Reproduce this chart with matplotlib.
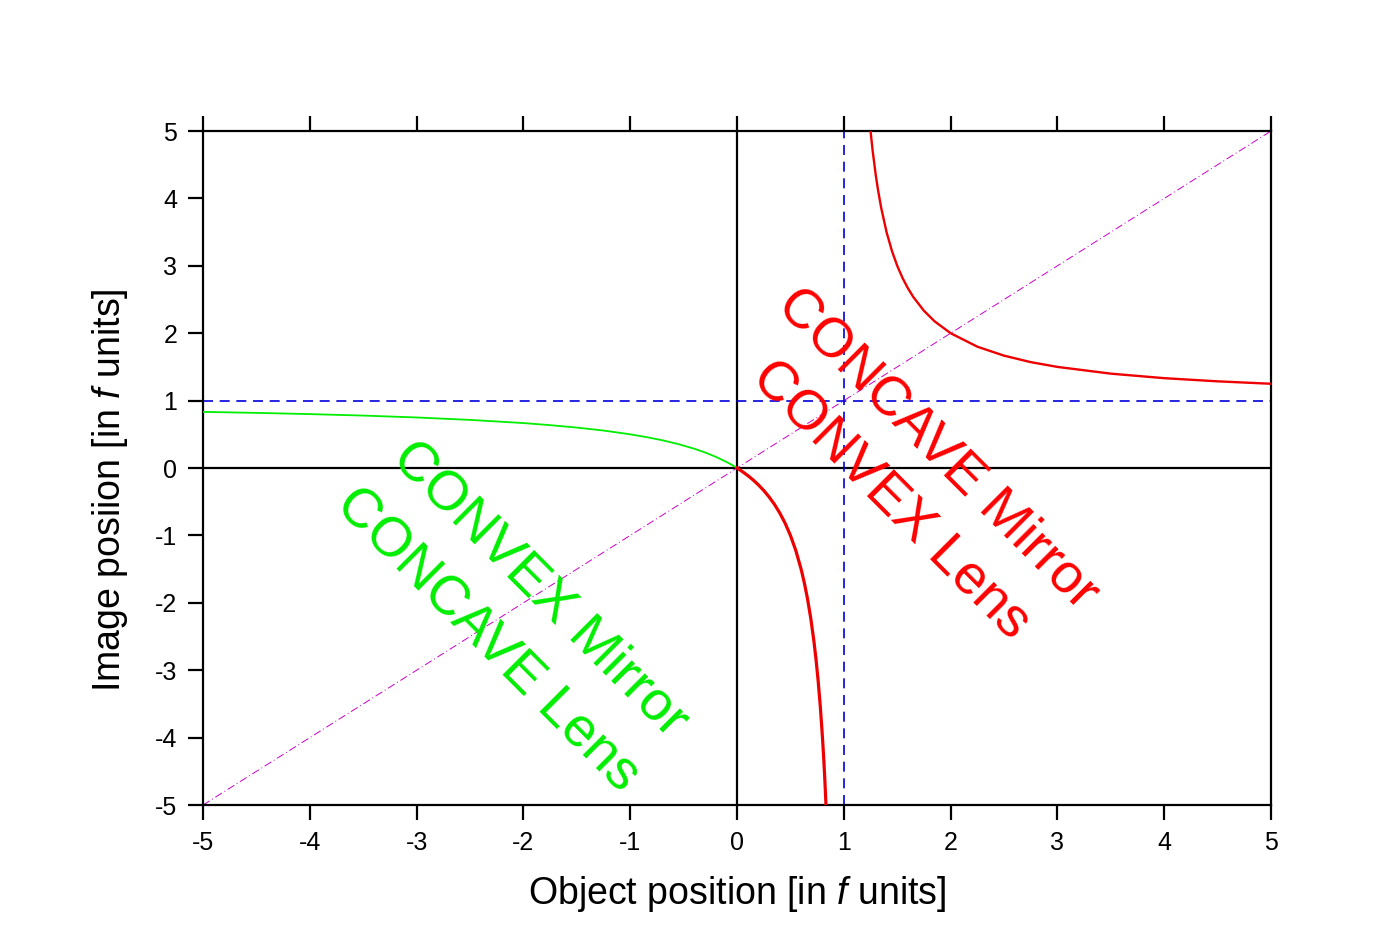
import matplotlib
matplotlib.use("Agg")
import matplotlib.pyplot as plt

plt.rcParams['font.family'] = ['Liberation Sans', 'DejaVu Sans']
plt.rcParams['mathtext.fontset'] = 'custom'
plt.rcParams['mathtext.it'] = 'Liberation Sans:italic'
plt.rcParams['mathtext.rm'] = 'Liberation Sans'

# Data
green_x = [-5.0, -4.5, -4.0, -3.5, -3.0, -2.5, -2.0, -1.75, -1.5, -1.25, -1.0, -0.85, -0.7,
           -0.55, -0.4, -0.3, -0.2, -0.1, -0.05, 0.0]
green_y = [0.833, 0.818, 0.800, 0.778, 0.750, 0.714, 0.667, 0.636, 0.600, 0.556, 0.500,
           0.459, 0.412, 0.355, 0.286, 0.231, 0.167, 0.091, 0.048, 0.0]

red_low_x = [0.0, 0.05, 0.1, 0.15, 0.2, 0.25, 0.3, 0.35, 0.4, 0.45, 0.5, 0.55, 0.6, 0.63,
             0.66, 0.69, 0.72, 0.74, 0.76, 0.78, 0.80, 0.81, 0.82, 0.833]
red_low_y = [0.0, -0.053, -0.111, -0.176, -0.25, -0.333, -0.429, -0.538, -0.667, -0.818,
             -1.0, -1.222, -1.5, -1.703, -1.941, -2.226, -2.571, -2.846, -3.167, -3.545,
             -4.0, -4.263, -4.556, -5.0]

red_up_x = [1.25, 1.27, 1.3, 1.32, 1.35, 1.4, 1.45, 1.5, 1.55, 1.6, 1.65, 1.75, 1.85, 2.0,
            2.25, 2.5, 2.75, 3.0, 3.5, 4.0, 4.5, 5.0]
red_up_y = [5.0, 4.704, 4.333, 4.125, 3.857, 3.5, 3.222, 3.0, 2.818, 2.667, 2.538, 2.333,
            2.176, 2.0, 1.8, 1.667, 1.571, 1.5, 1.4, 1.333, 1.286, 1.25]

diag_x = [-5, 5]
diag_y = [-5, 5]

ticks = [-5, -4, -3, -2, -1, 0, 1, 2, 3, 4, 5]

fig = plt.figure(figsize=(14, 9.5), dpi=100)
ax = fig.add_axes([0.145, 0.1526, 0.7629, 0.7095])

ax.set_xlim(-5, 5)
ax.set_ylim(-5, 5)

# reference lines
ax.axhline(0, color='black', lw=1.6, zorder=2)
ax.axvline(0, color='black', lw=1.6, zorder=2)
ax.axhline(1, color='#0000dd', lw=1.2, ls=(0, (6, 4)), zorder=2)
ax.axvline(1, color='#0000dd', lw=1.2, ls=(0, (6, 4)), zorder=2)
ax.plot(diag_x, diag_y, color='#cc00cc', lw=0.7, ls=(0, (8, 3, 1, 3)), zorder=2)

# curves
ax.plot(green_x, green_y, color='#00ee00', lw=1.3, zorder=3)
ax.plot(red_low_x, red_low_y, color='#ee0000', lw=2.3, zorder=3)
ax.plot(red_up_x, red_up_y, color='#ee0000', lw=1.7, zorder=3)

# annotations
ax.text(1.88, 0.28, 'CONCAVE Mirror', color='#ff0000', fontsize=40, rotation=-45,
        ha='center', va='center', rotation_mode='anchor', zorder=4)
ax.text(1.43, -0.49, 'CONVEX Lens', color='#ff0000', fontsize=40, rotation=-45,
        ha='center', va='center', rotation_mode='anchor', zorder=4)
ax.text(-1.845, -1.80, 'CONVEX Mirror', color='#00ee00', fontsize=40, rotation=-45,
        ha='center', va='center', rotation_mode='anchor', zorder=4)
ax.text(-2.34, -2.55, 'CONCAVE Lens', color='#00ee00', fontsize=40, rotation=-45,
        ha='center', va='center', rotation_mode='anchor', zorder=4)

# axes styling
for s in ax.spines.values():
    s.set_linewidth(1.6)
ax.set_xticks(ticks)
ax.set_yticks(ticks)
ax.set_xticklabels([str(t) for t in ticks])
ax.set_yticklabels([str(t) for t in ticks])
ax.tick_params(axis='both', direction='out', length=10.5, width=1.6, labelsize=18, pad=8)
ax.tick_params(axis='x', top=True, labeltop=False)
ax.tick_params(axis='y', right=False)

ax.set_xlabel('Object position [in $f$ units]', fontsize=27, labelpad=14)
ax.set_ylabel('Image posiion [in $f$ units]', fontsize=27)
ax.yaxis.set_label_coords(-0.068, 0.467)

fig.savefig('out.png', dpi=100)
